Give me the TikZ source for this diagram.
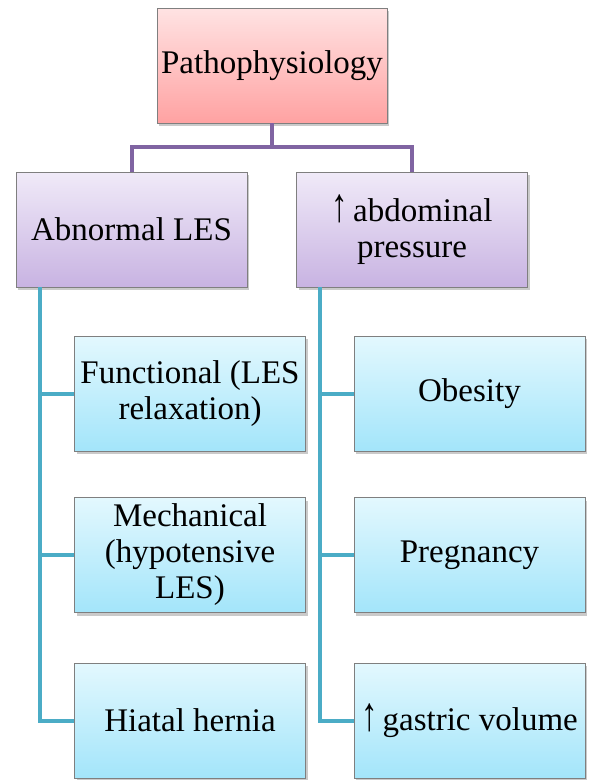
\documentclass[tikz,border=0pt]{standalone}
\usepackage{fontspec}
\usepackage{graphicx}
\setmainfont{Liberation Serif}
\usetikzlibrary{shadows,calc}
\definecolor{bordergray}{HTML}{7F7F7F}
\definecolor{pinkT}{HTML}{FFE3E3}
\definecolor{pinkB}{HTML}{FFA2A2}
\definecolor{lavT}{HTML}{F0EAF8}
\definecolor{lavB}{HTML}{C8B3E2}
\definecolor{bluT}{HTML}{E3F8FE}
\definecolor{bluB}{HTML}{A3E5FA}
\definecolor{purpline}{HTML}{8064A2}
\definecolor{tealline}{HTML}{4BACC6}
\newcommand{\uparr}{\scalebox{1}[1.45]{↑}\kern5pt}
\tikzset{
  basebox/.style={draw=bordergray, line width=0.8pt, rectangle, inner sep=0pt,
    minimum width=231pt, minimum height=115pt, align=center,
    font=\fontsize{33}{36}\selectfont,
    drop shadow={shadow xshift=2pt, shadow yshift=-3pt, opacity=0.35, fill=black!60}},
  rootbox/.style={basebox, minimum width=230pt, top color=pinkT, bottom color=pinkB},
  midbox/.style={basebox, top color=lavT, bottom color=lavB},
  leafbox/.style={basebox, top color=bluT, bottom color=bluB},
  purpconn/.style={draw=purpline, line width=4pt},
  tealconn/.style={draw=tealline, line width=4pt},
}
\begin{document}
\begin{tikzpicture}[x=1pt, y=-1pt]
\useasboundingbox (0,0) rectangle (594,780);
% nodes
\node[rootbox] (root) at (272,65.5) {Pathophysiology};
\node[midbox] (abn) at (131.5,229.5) {Abnormal LES};
\node[midbox] (abd) at (412,229.5) {\uparr abdominal\\pressure};
\node[leafbox] (fun) at (190,393.5) {Functional (LES\\relaxation)};
\node[leafbox] (mec) at (190,555) {Mechanical\\(hypotensive\\LES)};
\node[leafbox] (hia) at (190,720.5) {Hiatal hernia};
\node[leafbox] (obe) at (469.5,393.5) {Obesity};
\node[leafbox] (pre) at (469.5,555) {Pregnancy};
\node[leafbox] (gas) at (469.5,720.5) {\uparr gastric volume};
% purple connectors
\coordinate (jy) at (0,147);
\draw[purpconn] (root.south) -- (root.south |- jy);
\draw[purpconn] (abn.north) -- (abn.north |- jy) -- (abd.north |- jy) -- (abd.north);
% left trunk
\coordinate (lx) at ($(abn.south west)+(24,0)$);
\draw[tealconn] (lx) -- (lx |- hia.west) -- (hia.west);
\draw[tealconn] (lx |- fun.west) -- (fun.west);
\draw[tealconn] (lx |- mec.west) -- (mec.west);
% right trunk
\coordinate (rx) at ($(abd.south west)+(24,0)$);
\draw[tealconn] (rx) -- (rx |- gas.west) -- (gas.west);
\draw[tealconn] (rx |- obe.west) -- (obe.west);
\draw[tealconn] (rx |- pre.west) -- (pre.west);
\end{tikzpicture}
\end{document}
